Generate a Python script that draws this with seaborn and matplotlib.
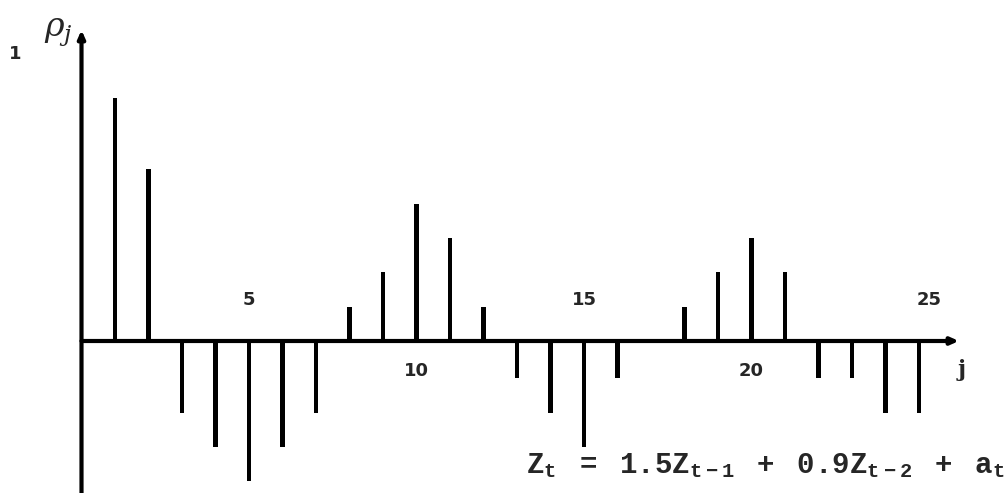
import matplotlib
matplotlib.use("Agg")
import matplotlib.pyplot as plt
import seaborn as sns
import pandas as pd

# ---- data ----
lags = list(range(1, 26))
rho = [0.85, 0.60, -0.25, -0.37, -0.49, -0.37, -0.25, 0.12, 0.24, 0.48,
       0.36, 0.12, -0.13, -0.25, -0.37, -0.13, 0.0, 0.12, 0.24, 0.36,
       0.24, -0.13, -0.13, -0.25, -0.25]
upper_tick_labels = ["5", "15", "25"]
upper_tick_pos = [5, 15, 25.3]
lower_tick_labels = ["10", "20"]
lower_tick_pos = [10, 20]
equation = (r"$\mathtt{Z_t\;\ =\ \;1.5Z_{t-1}\;\ +\ \;0.9Z_{t-2}"
            r"\;\ +\ \;a_t}$")

sns.set_style("white")
plt.rcParams["mathtext.fontset"] = "custom"
plt.rcParams["mathtext.tt"] = "Liberation Mono:bold"
plt.rcParams["mathtext.rm"] = "DejaVu Serif"
plt.rcParams["mathtext.it"] = "DejaVu Serif:italic"

W, H = 1008, 493
x0px, dxpx = 81.5, 33.5
y0px, dypx = 341, 286

def px_x(p):
    return (p - x0px) / dxpx

def px_y(p):
    return (y0px - p) / dypx

fig = plt.figure(figsize=(W / 100, H / 100), dpi=100)
ax = fig.add_axes([0, 0, 1, 1])

df = pd.DataFrame({"j": lags, "rho": rho})
sns.barplot(data=df, x="j", y="rho", native_scale=True, width=0.13,
            color="black", saturation=1, errorbar=None, linewidth=0, ax=ax)

ax.set_xlim(px_x(0), px_x(W))
ax.set_ylim(px_y(H), px_y(0))
ax.axis("off")

arrow = dict(arrowstyle="-|>,head_length=0.45,head_width=0.2", color="black",
             lw=3, shrinkA=0, shrinkB=0)
# x axis
ax.annotate("", xy=(px_x(959), 0), xytext=(0, 0), arrowprops=arrow)
# y axis
ax.annotate("", xy=(0, px_y(30)), xytext=(0, px_y(H)), arrowprops=arrow)

for lab, p in zip(upper_tick_labels, upper_tick_pos):
    ax.text(p, px_y(300), lab, ha="center", va="center", fontsize=13,
            fontweight="bold", family="DejaVu Sans")
for lab, p in zip(lower_tick_labels, lower_tick_pos):
    ax.text(p, px_y(371), lab, ha="center", va="center", fontsize=13,
            fontweight="bold", family="DejaVu Sans")

ax.text(px_x(15), px_y(54), "1", ha="center", va="center", fontsize=13,
        fontweight="bold", family="DejaVu Sans")
ax.text(px_x(58), px_y(32), r"$\rho_j$", ha="center", va="center", fontsize=24)
ax.text(px_x(962), px_y(370), "j", ha="center", va="center", fontsize=16,
        fontweight="bold", family="DejaVu Serif")
ax.text(px_x(1005), px_y(473), equation, ha="right", va="baseline", fontsize=21)

fig.savefig("out.png", dpi=100)
